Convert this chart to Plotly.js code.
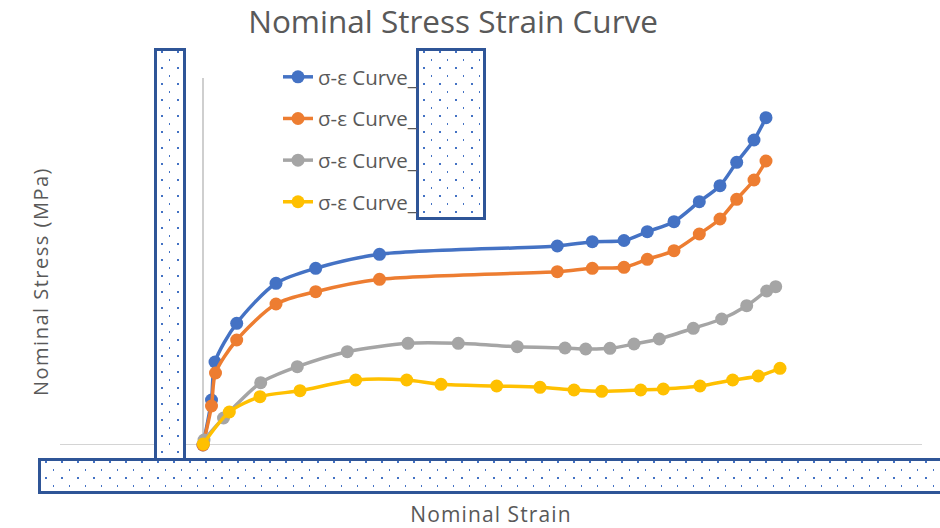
<!DOCTYPE html>
<html>
<head>
<meta charset="utf-8">
<script src="https://cdn.plot.ly/plotly-3.0.1.min.js"></script>
<style>
html,body{margin:0;padding:0;background:#fff;}
#chart{width:940px;height:528px;}
#chart .xtitle{letter-spacing:1.1px;}
#chart .annotation-text{letter-spacing:1.5px;}
</style>
</head>
<body>
<div id="chart"></div>
<script>
// ---- Data ----
const seriesNames = ["σ-ε Curve_", "σ-ε Curve_", "σ-ε Curve_", "σ-ε Curve_"];
const seriesColors = ["#4472c4", "#ed7d31", "#a5a5a5", "#ffc000"];

const strainBlue   = [0, 0.0085, 0.012, 0.0337, 0.073, 0.1127, 0.1765, 0.3543, 0.3893, 0.421, 0.4443, 0.471, 0.4963, 0.517, 0.5337, 0.551, 0.563];
const stressBlue   = [0, 45, 83, 121.7, 161.7, 176.7, 190.7, 199, 203.3, 204.5, 213.3, 223.3, 243.3, 259.3, 282.7, 305, 327.3];

const strainOrange = [0, 0.0085, 0.0125, 0.0337, 0.073, 0.1127, 0.1765, 0.3543, 0.3893, 0.421, 0.4443, 0.471, 0.4963, 0.517, 0.5337, 0.551, 0.563];
const stressOrange = [0, 39, 72, 105, 141, 153.3, 165.7, 173.3, 176.7, 177.7, 185.7, 194.3, 211, 226, 245.7, 265, 284];

const strainGray   = [0.001, 0.0205, 0.0577, 0.0943, 0.1443, 0.205, 0.2553, 0.3143, 0.362, 0.3827, 0.407, 0.431, 0.4563, 0.4903, 0.5187, 0.5437, 0.5637, 0.5727];
const stressGray   = [5, 27, 62.3, 78.3, 93.3, 101.7, 101.7, 98.3, 97, 96, 96.7, 101, 106, 116.7, 126, 139.3, 154, 158.3];

const strainYellow = [0.0003, 0.0263, 0.057, 0.097, 0.1527, 0.2037, 0.238, 0.2937, 0.337, 0.371, 0.3987, 0.4377, 0.4603, 0.497, 0.5297, 0.5553, 0.577];
const stressYellow = [1, 33, 48.3, 54.3, 65, 65, 60.7, 59, 57.7, 55, 53.7, 55, 56, 59, 65, 69, 76.7];

const xs = [strainBlue, strainOrange, strainGray, strainYellow];
const ys = [stressBlue, stressOrange, stressGray, stressYellow];

// ---- Decorative dotted boxes (SVG images) ----
function boxSvg(w, h) {
  const svg = `<svg xmlns="http://www.w3.org/2000/svg" width="${w}" height="${h}" viewBox="0 0 ${w} ${h}">` +
    `<defs><pattern id="p" x="0" y="0" width="16" height="16" patternUnits="userSpaceOnUse">` +
    `<rect x="7" y="3" width="2" height="2" fill="#4472c4"/>` +
    `<rect x="15" y="11" width="2" height="2" fill="#4472c4"/>` +
    `</pattern></defs>` +
    `<rect x="0" y="0" width="${w}" height="${h}" fill="#ffffff"/>` +
    `<rect x="0" y="0" width="${w}" height="${h}" fill="url(#p)"/>` +
    `<rect x="1.5" y="1.5" width="${w - 3}" height="${h - 3}" fill="none" stroke="#2f5597" stroke-width="3"/>` +
    `</svg>`;
  return 'data:image/svg+xml;utf8,' + encodeURIComponent(svg);
}

const M = {l: 60, r: 18, t: 78, b: 83};
const PW = 940 - M.l - M.r, PH = 528 - M.t - M.b;
const px2x = p => (p - M.l) / PW;
const px2y = p => (528 - M.b - p) / PH;

function boxImage(x0, y0, w, h) {
  return {
    source: boxSvg(w, h), xref: 'paper', yref: 'paper',
    x: px2x(x0), y: px2y(y0), sizex: w / PW, sizey: h / PH,
    xanchor: 'left', yanchor: 'top', sizing: 'stretch', layer: 'above'
  };
}

const traces = xs.map((x, i) => ({
  type: 'scatter', mode: 'lines+markers',
  x: x, y: ys[i], name: seriesNames[i],
  legendgroup: 'g' + i,
  line: {color: seriesColors[i], width: 3.5, shape: 'spline', smoothing: 0.8},
  marker: {color: seriesColors[i], size: 13},
  cliponaxis: false
}));

const layout = {
  width: 940, height: 528,
  margin: M,
  paper_bgcolor: '#ffffff', plot_bgcolor: '#ffffff',
  font: {family: 'Open Sans, sans-serif', color: '#595959'},
  title: {text: 'Nominal Stress Strain Curve', font: {size: 31.5, color: '#595959', family: 'Open Sans, sans-serif'},
          x: 0.482, xanchor: 'center', y: 1 - 22 / 528, yanchor: 'middle', xref: 'container', yref: 'container'},
  xaxis: {range: [-0.143, 0.719], showgrid: false, zeroline: false, showline: false, showticklabels: false, ticks: '',
          title: {text: 'Nominal Strain', font: {size: 21, color: '#595959'}, standoff: 63}},
  yaxis: {range: [0, 367], showgrid: false, zeroline: false, showline: false, showticklabels: false, ticks: ''},
  annotations: [
    {text: 'Nominal Stress (MPa)', xref: 'paper', yref: 'paper', x: px2x(40), y: px2y(282),
     xanchor: 'center', yanchor: 'middle', textangle: -90, showarrow: false,
     font: {size: 20, color: '#595959', family: 'Open Sans, sans-serif'}}
  ],
  showlegend: true,
  legend: {x: px2x(278), y: px2y(57), xanchor: 'left', yanchor: 'top', bgcolor: 'rgba(0,0,0,0)',
           font: {size: 20.5, color: '#595959'}, traceorder: 'grouped', tracegroupgap: 12},
  shapes: [
    {type: 'line', xref: 'paper', yref: 'y', x0: 0, x1: 1, y0: 0, y1: 0, line: {color: '#d4d4d4', width: 2}, layer: 'below'},
    {type: 'line', xref: 'x', yref: 'paper', x0: 0, x1: 0, y0: px2y(447), y1: 1, line: {color: '#bfbfbf', width: 1.5}, layer: 'below'}
  ],
  images: [
    boxImage(154, 48, 32, 446),
    boxImage(38, 458, 910, 36),
    boxImage(416, 48, 70, 172)
  ]
};

Plotly.newPlot('chart', traces, layout, {displayModeBar: false, staticPlot: true});
</script>
</body>
</html>
